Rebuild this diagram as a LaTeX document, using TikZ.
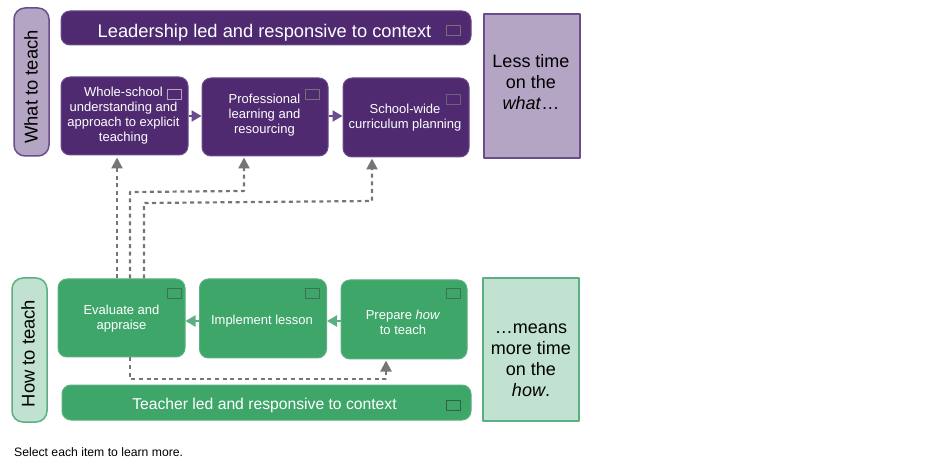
\documentclass[tikz,border=0pt]{standalone}
\usepackage{xcolor}
\usepackage{fontspec}
\setmainfont{Liberation Sans}
\usetikzlibrary{arrows.meta,calc,positioning}
\definecolor{whatdark}{HTML}{4F2A70}
\definecolor{whatedge}{HTML}{6B4C8C}
\definecolor{whatpale}{HTML}{B5A5C5}
\definecolor{howdark}{HTML}{3FA66A}
\definecolor{howedge}{HTML}{5CAF80}
\definecolor{howpale}{HTML}{C1E2D0}
\definecolor{linkgray}{HTML}{757575}
\tikzset{
  smallfont/.style={font=\fontsize{13}{15}\selectfont},
  whatbox/.style={draw=whatedge,fill=whatdark,line width=1pt,rounded corners=9pt,text=white,align=center,smallfont},
  howbox/.style={draw=howedge,fill=howdark,line width=1pt,rounded corners=9pt,text=white,align=center,smallfont},
  boxtext/.style={text=white,inner sep=0pt,align=center,smallfont},
  tabtext/.style={rotate=90,inner sep=0pt,text=black,font=\fontsize{18.4}{22}\selectfont},
  sidetext/.style={align=center,inner sep=0pt,text=black,font=\fontsize{18}{21}\selectfont},
  iconbox/.style={draw=#1,line width=0.8pt,inner sep=0pt,minimum width=14pt,minimum height=10pt},
  linkdash/.style={draw=linkgray,line width=2.2pt,dash pattern=on 4pt off 3.6pt,-{Triangle[length=11pt,width=11pt]}},
  whatlink/.style={draw=whatedge,line width=2.2pt,-{Triangle[length=10pt,width=11pt]}},
  howlink/.style={draw=howedge,line width=2.2pt,-{Triangle[length=10pt,width=11pt]}}
}
\begin{document}
\begin{tikzpicture}[line join=round,x=1pt,y=-1pt]
\useasboundingbox (0,0) rectangle (940,470);
% top half
\node[whatbox,fill=whatpale,rounded corners=11pt,line width=1.5pt,minimum width=35pt,minimum height=148pt] (whattab) at (31.5,82) {};
\node[tabtext] (whattabtext) at (31,87) {What to teach};
\node[whatbox,minimum width=410pt,minimum height=34pt] (leadbar) at (266,28) {};
\node[boxtext,font=\fontsize{18.3}{22}\selectfont] (leadtext) at (264.5,33) {Leadership led and responsive to context};
\node[whatbox,minimum width=127pt,minimum height=78pt] (whole) at (124.5,116) {};
\node[boxtext] (wholetext) at (123.5,115.5) {Whole-school\\understanding and\\approach to explicit\\teaching};
\node[whatbox,minimum width=126pt,minimum height=78pt] (prof) at (265,117) {};
\node[boxtext] (proftext) at (264.5,115) {Professional\\learning and\\resourcing};
\node[whatbox,minimum width=126pt,minimum height=79pt] (school) at (406,117.5) {};
\node[boxtext] (schooltext) at (405,118) {School-wide\\curriculum planning};
\node[draw=whatedge,fill=whatpale,line width=2pt,minimum width=96pt,minimum height=144pt,inner sep=0pt] (lessbox) at (532,86.5) {};
\node[sidetext] (lesstext) at (531,82) {Less time\\on the\\\textit{what}\dots};
% icons
\node[iconbox=whatpale] (wholeicon) at (174,94) {};
\node[iconbox=black!55] (leadicon) at (453.5,30) {};
\node[iconbox=black!55] (proficon) at (312.5,94) {};
\node[iconbox=whatpale!60!black] (schoolicon) at (453.5,99) {};
\draw[whatlink] (whole.east |- 0,116) -- (prof.west |- 0,116);
\draw[whatlink] (prof.east |- 0,116) -- (school.west |- 0,116);
% bottom half
\node[howbox,fill=howpale,rounded corners=11pt,line width=1.5pt,minimum width=35pt,minimum height=144pt] (howtab) at (29.5,350) {};
\node[tabtext] (howtabtext) at (28,353.5) {How to teach};
\node[howbox,minimum width=127pt,minimum height=78pt] (evaluate) at (121.5,318) {};
\node[boxtext] (evaltext) at (121.5,319) {Evaluate and\\appraise};
\node[howbox,minimum width=127pt,minimum height=79pt] (implement) at (263,318.5) {};
\node[boxtext] (impltext) at (262,321.5) {Implement lesson};
\node[howbox,minimum width=126pt,minimum height=79pt] (prepare) at (404,319.5) {};
\node[boxtext] (preptext) at (403,322) {Prepare \textit{how}\\to teach};
\node[howbox,minimum width=409pt,minimum height=35pt] (teachbar) at (266.5,402.5) {};
\node[boxtext,font=\fontsize{15.7}{20}\selectfont] (teachtext) at (264.5,405) {Teacher led and responsive to context};
\node[draw=howedge,fill=howpale,line width=2pt,minimum width=96pt,minimum height=143pt,inner sep=0pt] (meansbox) at (531,349.5) {};
\node[sidetext] (meanstext) at (531,360) {\dots means\\more time\\on the\\\textit{how}.};
% icons
\node[iconbox=howedge!65!black] (evalicon) at (174,293.5) {};
\node[iconbox=howedge!65!black] (implicon) at (312,293.5) {};
\node[iconbox=howedge!65!black] (prepicon) at (453.5,293.5) {};
\node[iconbox=howedge!55!black] (teachicon) at (453.5,405) {};
\draw[howlink] (prepare.west |- 0,321) -- (implement.east |- 0,321);
\draw[howlink] (implement.west |- 0,321) -- (evaluate.east |- 0,321);
% dashed links
\coordinate (wholein) at (117,200);
\coordinate (profbenda) at (130,192);
\coordinate (profbendb) at (244,191);
\coordinate (schoolbenda) at (144,203);
\coordinate (schoolbendb) at (372,201);
\coordinate (prepbenda) at (130,379);
\coordinate (prepbendb) at (386,379);
\draw[linkdash,shorten >=2pt] (wholein |- evaluate.north) -- (wholein |- whole.south);
\draw[linkdash,shorten >=1pt] (profbenda |- evaluate.north) -- (profbenda) -- (profbendb) -- (profbendb |- prof.south);
\draw[linkdash,shorten >=1pt] (schoolbenda |- evaluate.north) -- (schoolbenda) -- (schoolbendb) -- (schoolbendb |- school.south);
\draw[linkdash,shorten >=1pt] (prepbenda |- evaluate.south) -- (prepbenda) -- (prepbendb) -- (prepbendb |- prepare.south);
\node[anchor=west,inner sep=0pt,text=black,font=\fontsize{12.2}{14}\selectfont] (selectnote) at (14,452) {Select each item to learn more.};
\end{tikzpicture}
\end{document}
